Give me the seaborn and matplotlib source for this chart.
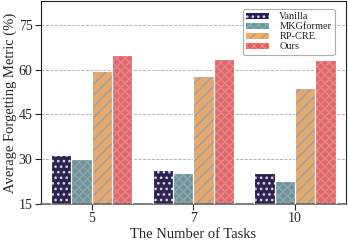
import pandas as pd
import matplotlib.pyplot as plt
import matplotlib.patches as mpatches
import seaborn as sns

tasks = ["5", "7", "10"]
methods = ["Vanilla", "MKGformer", "RP-CRE", "Ours"]
vanilla = [31.3, 26.5, 25.3]
mkgformer = [30.0, 25.3, 22.8]
rp_cre = [59.5, 58.0, 54.0]
ours = [65.0, 63.5, 63.2]

colors = ["#2a1c55", "#4fa3ac", "#f8a95a", "#e8585c"]
hatch_colors = ["#d8d0ee", "#a0a0a0", "#a0a0a0", "#f28282"]
hatches = ["...", "xxxx", "///", "xxxx"]

rows = []
for m, vals in zip(methods, [vanilla, mkgformer, rp_cre, ours]):
    for t, v in zip(tasks, vals):
        rows.append({"Tasks": t, "Method": m, "Value": v})
df = pd.DataFrame(rows)

sns.set_style("white")
plt.rcParams["font.family"] = ["Liberation Serif", "DejaVu Serif"]
plt.rcParams["hatch.linewidth"] = 1.1

fig = plt.figure(figsize=(3.49, 2.41), dpi=100)
ax = fig.add_axes([0.117, 0.154, 0.874, 0.842])

sns.barplot(data=df, x="Tasks", y="Value", hue="Method", order=tasks,
            hue_order=methods, palette=colors, width=0.8, ax=ax, legend=False)

bars = [p for p in ax.patches if isinstance(p, mpatches.Rectangle)]
for i, p in enumerate(bars):
    k = i // len(tasks)
    p.set_hatch(hatches[k])
    p.set_edgecolor(hatch_colors[k])
    p.set_linewidth(0)
    ax.add_patch(mpatches.Rectangle(p.get_xy(), p.get_width(), p.get_height(),
                                    fill=False, edgecolor="white", lw=0.8, zorder=3))

ax.set_ylim(15, 83)
ax.set_yticks([15, 30, 45, 60, 75])
ax.yaxis.grid(True, linestyle="--", color="#aaaaaa", linewidth=0.6)
ax.set_axisbelow(True)
ax.set_xlabel("The Number of Tasks", fontsize=10.5, labelpad=2)
ax.set_ylabel("Average Forgetting Metric (%)", fontsize=10.5, labelpad=1)
ax.tick_params(axis="both", labelsize=10, length=4, width=0.8, direction="out",
               bottom=True, left=True, pad=2)
for s in ["top", "right", "left"]:
    ax.spines[s].set_color("#222222")
    ax.spines[s].set_linewidth(0.8)
ax.spines["bottom"].set_color("#666666")
ax.spines["bottom"].set_linewidth(1.2)

handles = [mpatches.Patch(facecolor=c, edgecolor=hc, hatch=h, lw=0)
           for c, hc, h in zip(colors, hatch_colors, hatches)]
leg = ax.legend(handles, methods, loc="upper right", fontsize=7.5, frameon=True,
                fancybox=True, handlelength=2.2, handleheight=0.5,
                labelspacing=0.1, borderpad=0.3, handletextpad=1.0,
                bbox_to_anchor=(0.98, 0.985))
leg.get_frame().set_edgecolor("#999999")
leg.get_frame().set_linewidth(0.8)

fig.savefig("out.png", dpi=100)
